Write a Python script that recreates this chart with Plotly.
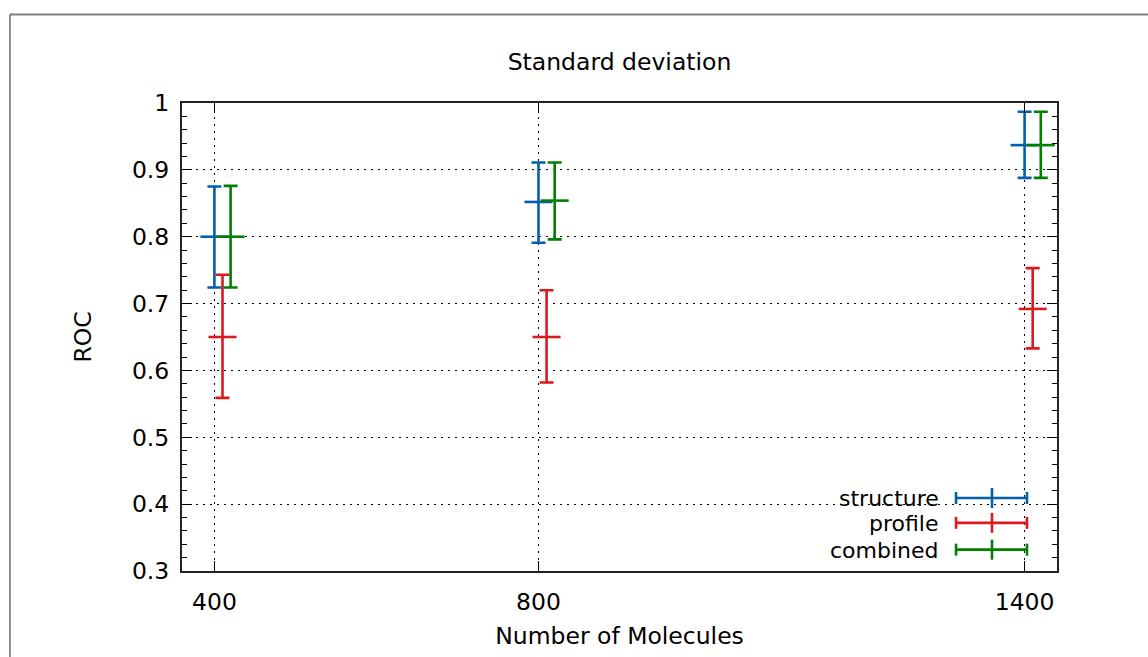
import plotly.graph_objects as go

# ---- data ----
molecules = [400, 800, 1400]
series_names = ["structure", "profile", "combined"]
structure_mean = [0.800, 0.852, 0.937]
structure_low = [0.724, 0.791, 0.888]
structure_high = [0.875, 0.911, 0.987]
profile_mean = [0.650, 0.650, 0.692]
profile_low = [0.559, 0.582, 0.633]
profile_high = [0.743, 0.720, 0.753]
combined_mean = [0.800, 0.854, 0.937]
combined_low = [0.724, 0.796, 0.888]
combined_high = [0.876, 0.911, 0.987]
y_ticks = [0.3, 0.4, 0.5, 0.6, 0.7, 0.8, 0.9, 1.0]
y_ticklabels = ["0.3", "0.4", "0.5", "0.6", "0.7", "0.8", "0.9", "1"]

# ---- style ----
colors = ["#0060ad", "#dd181f", "#008000"]
x_offsets = [0, 10, 20]
FONT = "DejaVu Sans"
FS = 23.5
LEG_FS = 22
LW = 2.6

means = [structure_mean, profile_mean, combined_mean]
lows = [structure_low, profile_low, combined_low]
highs = [structure_high, profile_high, combined_high]

fig = go.Figure()
for name, col, off, m, lo, hi in zip(series_names, colors, x_offsets, means, lows, highs):
    fig.add_trace(go.Scatter(
        x=[v + off for v in molecules], y=m, name=name, mode="markers",
        marker=dict(symbol="line-ew", size=20, line=dict(color=col, width=LW), color=col),
        error_y=dict(type="data", symmetric=False,
                     array=[h - a for h, a in zip(hi, m)],
                     arrayminus=[a - l for a, l in zip(m, lo)],
                     color=col, thickness=LW, width=7),
        showlegend=False, cliponaxis=False,
    ))

shapes = []
annotations = []
# legend box (white, hides grid)
shapes.append(dict(type="rect", xref="paper", yref="paper", x0=0.709, x1=0.986, y0=0.0, y1=0.189,
                   fillcolor="white", line=dict(width=0), layer="between"))
leg_y = [0.1560, 0.1029, 0.0456]
xl0, xl1, xlc = 0.8846, 0.9657, 0.9257
for name, col, yy in zip(series_names, colors, leg_y):
    annotations.append(dict(text=name, xref="paper", yref="paper", x=0.8665, y=yy,
                            xanchor="right", yanchor="middle", showarrow=False,
                            height=24, borderpad=0,
                            font=dict(family=FONT, size=LEG_FS, color="black")))
    shapes.append(dict(type="line", xref="paper", yref="paper", x0=xl0, x1=xl1, y0=yy, y1=yy,
                       line=dict(color=col, width=LW)))
    for xx, half in ((xl0, 6), (xl1, 6), (xlc, 10)):
        shapes.append(dict(type="line", xref="paper", yref="paper", x0=xx, x1=xx,
                           ysizemode="pixel", yanchor=yy, y0=-half, y1=half,
                           line=dict(color=col, width=LW)))

# page frame
shapes.append(dict(type="line", xref="paper", yref="paper", x0=-0.1966, x1=1.2, y0=1.189, y1=1.189,
                   line=dict(color="#808080", width=2)))
shapes.append(dict(type="line", xref="paper", yref="paper", x0=-0.1966, x1=-0.1966, y0=1.189, y1=-0.3,
                   line=dict(color="#222222", width=1)))

fig.update_layout(
    width=1148, height=657,
    margin=dict(l=182, r=91, t=103, b=82),
    paper_bgcolor="white", plot_bgcolor="white",
    font=dict(family=FONT, size=FS, color="black"),
    title=dict(text="Standard deviation", x=0.5, xref="paper", y=1 - 62 / 657, yref="container",
               xanchor="center", yanchor="middle", font=dict(family=FONT, size=FS)),
    shapes=shapes, annotations=annotations,
)
fig.update_xaxes(
    range=[360, 1440], tickvals=molecules, ticktext=[str(v) for v in molecules],
    ticks="inside", ticklen=10, tickwidth=1, tickcolor="black", ticklabelstandoff=9,
    showline=True, linecolor="#222222", linewidth=2, mirror="allticks",
    showgrid=True, gridcolor="black", gridwidth=1, griddash="2px,5px",
    zeroline=False,
    title=dict(text="Number of Molecules", standoff=12, font=dict(family=FONT, size=FS)),
)
fig.update_yaxes(
    range=[0.3, 1.0], tickvals=y_ticks, ticktext=y_ticklabels,
    ticks="inside", ticklen=10, tickwidth=1, tickcolor="black", ticklabelstandoff=6,
    showline=True, linecolor="#222222", linewidth=2, mirror="allticks",
    showgrid=True, gridcolor="black", gridwidth=1, griddash="2px,5px",
    zeroline=False,
    minor=dict(dtick=0.02, tick0=0.3, ticks="inside", ticklen=5, tickcolor="black", showgrid=False),
    title=dict(text="ROC", standoff=34, font=dict(family=FONT, size=FS)),
)
fig.write_html("out.html")
